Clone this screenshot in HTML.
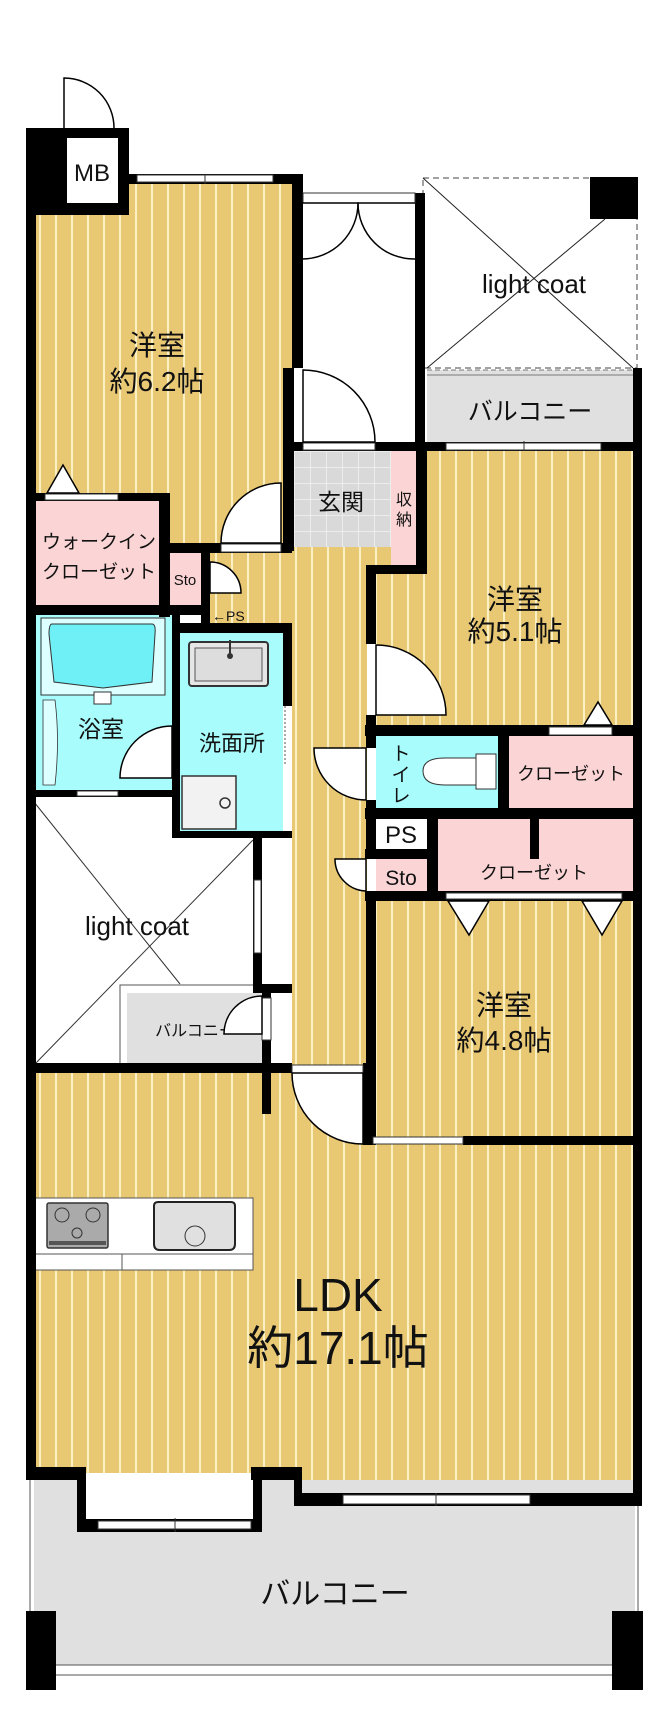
<!DOCTYPE html>
<html><head><meta charset="utf-8"><style>html,body{margin:0;padding:0;background:#fff}svg{display:block}text{font-family:"Liberation Sans","Noto Sans CJK JP",sans-serif;fill:#111}</style></head><body>
<svg width="670" height="1711" viewBox="0 0 670 1711" xmlns="http://www.w3.org/2000/svg">
<defs>
<pattern id="st" width="16" height="20" patternUnits="userSpaceOnUse"><rect width="16" height="20" fill="#e9c874"/><rect x="7" width="2" height="20" fill="#fbefc4"/></pattern>
<pattern id="tl" width="16" height="16" patternUnits="userSpaceOnUse" x="294" y="451"><rect width="16" height="16" fill="#d9d9d9"/><path d="M0 0H16M0 0V16" stroke="#f2f2f2" stroke-width="1.5"/></pattern>
</defs>
<rect width="670" height="1711" fill="#fff"/>
<rect x="36" y="184" width="256" height="309" fill="url(#st)"/>
<rect x="170" y="490" width="113" height="55" fill="url(#st)"/>
<path d="M201 543H292V547H391V565H367V1068H292V623H201Z" fill="url(#st)"/>
<rect x="36" y="1073" width="258" height="400" fill="url(#st)"/>
<rect x="294" y="1073" width="340" height="422" fill="url(#st)"/>
<path d="M427 451H633V725H376V574H427Z" fill="url(#st)"/>
<rect x="376" y="901" width="257" height="238" fill="url(#st)"/>
<rect x="423" y="178" width="214" height="190" fill="#fff" stroke="#444" stroke-dasharray="6 4"/>
<line x1="423" y1="178" x2="633" y2="368" stroke="#222"/>
<line x1="605" y1="219" x2="427" y2="368" stroke="#222"/>
<rect x="590" y="177" width="48" height="42" fill="#000"/>
<text x="534" y="293" font-size="26" text-anchor="middle">light coat</text>
<rect x="427" y="370" width="206" height="72" fill="#e0e0e0"/>
<line x1="427" y1="370" x2="633" y2="370" stroke="#777" stroke-dasharray="5 3"/>
<line x1="427" y1="375" x2="633" y2="375" stroke="#777"/>
<text x="530" y="420" font-size="25" text-anchor="middle">バルコニー</text>
<rect x="294" y="451" width="97" height="96" fill="url(#tl)"/>
<text x="341" y="510" font-size="23" text-anchor="middle">玄関</text>
<rect x="391" y="451" width="25" height="114" fill="#fbd5d5"/>
<text x="404" y="505" font-size="16" text-anchor="middle">収</text>
<text x="404" y="525" font-size="16" text-anchor="middle">納</text>
<rect x="36" y="501" width="123" height="104" fill="#fbd5d5"/>
<text x="99" y="548" font-size="19" text-anchor="middle">ウォークイン</text>
<text x="99" y="578" font-size="19" text-anchor="middle">クローゼット</text>
<rect x="170" y="553" width="31" height="52" fill="#fbd5d5"/>
<text x="185" y="585" font-size="15" text-anchor="middle">Sto</text>
<rect x="180" y="615" width="21" height="9" fill="#fff"/>
<text x="212" y="621" font-size="14">←PS</text>
<rect x="34" y="612" width="138" height="180" fill="#a9fcfc"/>
<rect x="41" y="618" width="124" height="77" fill="#dcffff" stroke="#333"/>
<path d="M52 624H152Q156 624 155 634L152 682L103 688L54 682L49 634Q49 624 52 624Z" fill="#6ff0f6" stroke="#333"/>
<rect x="94" y="692" width="17" height="12" fill="#fff" stroke="#333"/>
<path d="M43 700V785H55Q60 740 55 700Z" fill="#dcffff" stroke="#333" stroke-width=".8"/>
<text x="101" y="737" font-size="23" text-anchor="middle">浴室</text>
<rect x="180" y="633" width="103" height="198" fill="#a9fcfc"/>
<rect x="189" y="642" width="79" height="44" rx="3" fill="#e6e6e6" stroke="#333" stroke-width="2"/>
<rect x="195" y="648" width="67" height="33" fill="#ddd" stroke="#555"/>
<line x1="230" y1="640" x2="230" y2="654" stroke="#333" stroke-width="2"/>
<circle cx="230" cy="656" r="3" fill="#333"/>
<text x="232" y="751" font-size="22" text-anchor="middle">洗面所</text>
<rect x="182" y="776" width="54" height="53" fill="#f2f2f2" stroke="#333" stroke-width="1.5"/>
<circle cx="225" cy="803" r="5" fill="none" stroke="#333" stroke-width="1.5"/>
<line x1="30" y1="797" x2="30" y2="1065" stroke="#444" stroke-dasharray="6 4"/>
<line x1="30" y1="797" x2="180" y2="984" stroke="#333"/>
<line x1="253" y1="840" x2="34" y2="1065" stroke="#333"/>
<text x="137" y="935" font-size="26" text-anchor="middle">light coat</text>
<rect x="120" y="985" width="144" height="80" fill="#fff" stroke="#555"/>
<rect x="127" y="993" width="137" height="72" fill="#e0e0e0"/>
<text x="195" y="1036" font-size="16" text-anchor="middle">バルコニー</text>
<rect x="376" y="736" width="122" height="72" fill="#a9fcfc"/>
<text x="401" y="760" font-size="19" text-anchor="middle">ト</text>
<text x="401" y="781" font-size="19" text-anchor="middle">イ</text>
<text x="401" y="802" font-size="19" text-anchor="middle">レ</text>
<rect x="476" y="754" width="20" height="35" fill="#fff" stroke="#333"/>
<path d="M476 758H445Q423 758 423 771Q423 785 445 785H476Z" fill="#fff" stroke="#333"/>
<rect x="509" y="736" width="124" height="72" fill="#fbd5d5"/>
<text x="571" y="780" font-size="18" text-anchor="middle">クローゼット</text>
<rect x="376" y="819" width="51" height="30" fill="#fff"/>
<text x="401" y="843" font-size="24" text-anchor="middle">PS</text>
<rect x="376" y="859" width="51" height="32" fill="#fbd5d5"/>
<text x="401" y="885" font-size="21" text-anchor="middle">Sto</text>
<rect x="438" y="819" width="195" height="72" fill="#fbd5d5"/>
<text x="534" y="879" font-size="18" text-anchor="middle">クローゼット</text>
<rect x="35" y="1198" width="218" height="72" fill="#fff" stroke="#555"/>
<line x1="35" y1="1254" x2="253" y2="1254" stroke="#555"/>
<line x1="122" y1="1254" x2="122" y2="1270" stroke="#555"/>
<rect x="47" y="1203" width="61" height="45" rx="2" fill="#aaa" stroke="#333" stroke-width="1.5"/>
<circle cx="62" cy="1215" r="7" fill="none" stroke="#333"/><circle cx="93" cy="1215" r="7" fill="none" stroke="#333"/><circle cx="77" cy="1233" r="5" fill="none" stroke="#333"/>
<rect x="49" y="1241" width="57" height="4" fill="#555"/>
<path d="M158 1202H231Q235 1202 235 1206V1244Q235 1250 229 1250H160Q154 1250 154 1244V1206Q154 1202 158 1202Z" fill="#e0e0e0" stroke="#222" stroke-width="2"/>
<circle cx="195" cy="1236" r="10" fill="#e0e0e0" stroke="#333"/>
<rect x="34" y="1480" width="601" height="185" fill="#e0e0e0"/>
<line x1="30" y1="1480" x2="30" y2="1665" stroke="#555"/>
<line x1="638" y1="1480" x2="638" y2="1665" stroke="#555"/>
<line x1="56" y1="1665" x2="612" y2="1665" stroke="#555"/>
<line x1="56" y1="1675" x2="612" y2="1675" stroke="#555"/>
<rect x="86" y="1474" width="167" height="46" fill="#fff"/>
<text x="335" y="1604" font-size="30" text-anchor="middle">バルコニー</text>
<rect x="26" y="1611" width="30" height="79" fill="#000"/>
<rect x="612" y="1611" width="31" height="79" fill="#000"/>
<g fill="#000">
<rect x="26" y="128" width="10" height="1352"/>
<rect x="26" y="128" width="38" height="87"/>
<rect x="47" y="128" width="82" height="87"/>
<rect x="129" y="174" width="174" height="10"/>
<rect x="292" y="174" width="11" height="194"/>
<rect x="283" y="368" width="11" height="183"/>
<rect x="415" y="193" width="10" height="249"/>
<rect x="292" y="442" width="350" height="9"/>
<rect x="633" y="368" width="9" height="1138"/>
<rect x="26" y="493" width="144" height="8"/>
<rect x="159" y="493" width="11" height="124"/>
<rect x="170" y="543" width="122" height="10"/>
<rect x="201" y="553" width="9" height="73"/>
<rect x="26" y="605" width="184" height="10"/>
<rect x="26" y="790" width="146" height="7"/>
<rect x="172" y="607" width="8" height="231"/>
<rect x="172" y="623" width="120" height="10"/>
<rect x="283" y="623" width="9" height="83"/>
<rect x="172" y="831" width="120" height="7"/>
<rect x="253" y="838" width="9" height="153"/>
<rect x="253" y="984" width="39" height="9"/>
<rect x="262" y="984" width="9" height="14"/>
<rect x="262" y="1040" width="9" height="74"/>
<rect x="26" y="1063" width="266" height="10"/>
<rect x="416" y="442" width="11" height="132"/>
<rect x="366" y="565" width="61" height="9"/>
<rect x="366" y="565" width="10" height="79"/>
<rect x="366" y="715" width="10" height="33"/>
<rect x="366" y="800" width="10" height="59"/>
<rect x="366" y="891" width="10" height="254"/>
<rect x="363" y="1063" width="10" height="82"/>
<rect x="365" y="725" width="277" height="11"/>
<rect x="498" y="736" width="11" height="72"/>
<rect x="365" y="808" width="277" height="11"/>
<rect x="365" y="849" width="62" height="10"/>
<rect x="427" y="808" width="11" height="93"/>
<rect x="530" y="819" width="9" height="40"/>
<rect x="365" y="891" width="277" height="10"/>
<rect x="463" y="1136" width="179" height="9"/>
<rect x="294" y="1493" width="348" height="13"/>
<rect x="294" y="1467" width="8" height="39"/>
<rect x="26" y="1467" width="60" height="13"/>
<rect x="251" y="1467" width="51" height="13"/>
<rect x="77" y="1467" width="9" height="65"/>
<rect x="253" y="1467" width="9" height="65"/>
<rect x="77" y="1519" width="185" height="13"/>
</g>
<rect x="67" y="138" width="51" height="65" fill="#fff"/>
<text x="92" y="181" font-size="24" text-anchor="middle">MB</text>
<path d="M64 128V78A50 50 0 0 1 114 128" fill="none" stroke="#000" stroke-width="1.5"/>
<g fill="#fff" stroke="#333" stroke-width="1">
<rect x="137" y="175" width="136" height="7"/>
<rect x="303" y="193" width="112" height="10"/>
<rect x="446" y="443" width="155" height="7"/>
<rect x="303" y="443" width="72" height="7"/>
<rect x="45" y="494" width="73" height="6"/>
<rect x="221" y="544" width="60" height="8"/>
<rect x="77" y="791" width="41" height="5"/>
<rect x="254" y="880" width="7" height="73"/>
<rect x="262" y="838" width="25" height="146" stroke="none"/>
<rect x="549" y="727" width="63" height="8"/>
<rect x="446" y="893" width="176" height="6"/>
<rect x="373" y="1137" width="90" height="7"/>
<rect x="343" y="1495" width="187" height="9"/>
<rect x="98" y="1521" width="153" height="8"/>
<rect x="292" y="1065" width="71" height="8"/>
<rect x="262" y="998" width="9" height="42"/>
</g>
<line x1="285" y1="706" x2="285" y2="764" stroke="#555" stroke-dasharray="2 2"/>
<line x1="205" y1="174" x2="205" y2="184" stroke="#333"/>
<line x1="524" y1="441" x2="524" y2="451" stroke="#333"/>
<line x1="436" y1="1493" x2="436" y2="1506" stroke="#333"/>
<line x1="175" y1="1518" x2="175" y2="1532" stroke="#333"/>
<g fill="#fff" stroke="#000" stroke-width="1.5">
<path d="M302 203H358A56 56 0 0 1 302 259" fill="none"/>
<path d="M415 203H358A56 56 0 0 0 415 259" fill="none"/>
<path d="M303 442V370A72 72 0 0 1 375 442Z"/>
<path d="M281 543V483A60 60 0 0 0 221 543Z"/>
<path d="M210 562A31 31 0 0 1 241 593H210Z"/>
<path d="M172 778V726A52 52 0 0 0 120 778Z"/>
<path d="M376 715V645A70 70 0 0 1 446 715Z"/>
<path d="M366 748H314A52 52 0 0 0 366 800Z"/>
<path d="M366 859H335A32 32 0 0 0 366 891Z"/>
<path d="M262 1034V996A38 38 0 0 0 224 1034Z"/>
<path d="M363 1073H292A71 71 0 0 0 363 1144Z"/>
<path d="M47 493L63 465L79 493Z"/>
<path d="M584 725L598 702L612 725Z"/>
<path d="M448 901L469 935L489 901Z"/>
<path d="M582 901L602 935L622 901Z"/>
</g>
<text x="157" y="355" font-size="28" text-anchor="middle">洋室</text>
<text x="157" y="391" font-size="28" text-anchor="middle">約6.2帖</text>
<text x="515" y="609" font-size="28" text-anchor="middle">洋室</text>
<text x="515" y="641" font-size="28" text-anchor="middle">約5.1帖</text>
<text x="504" y="1015" font-size="28" text-anchor="middle">洋室</text>
<text x="504" y="1050" font-size="28" text-anchor="middle">約4.8帖</text>
<text x="338" y="1311" font-size="46" text-anchor="middle">LDK</text>
<text x="338" y="1364" font-size="46" text-anchor="middle">約17.1帖</text>
</svg>
</body></html>
